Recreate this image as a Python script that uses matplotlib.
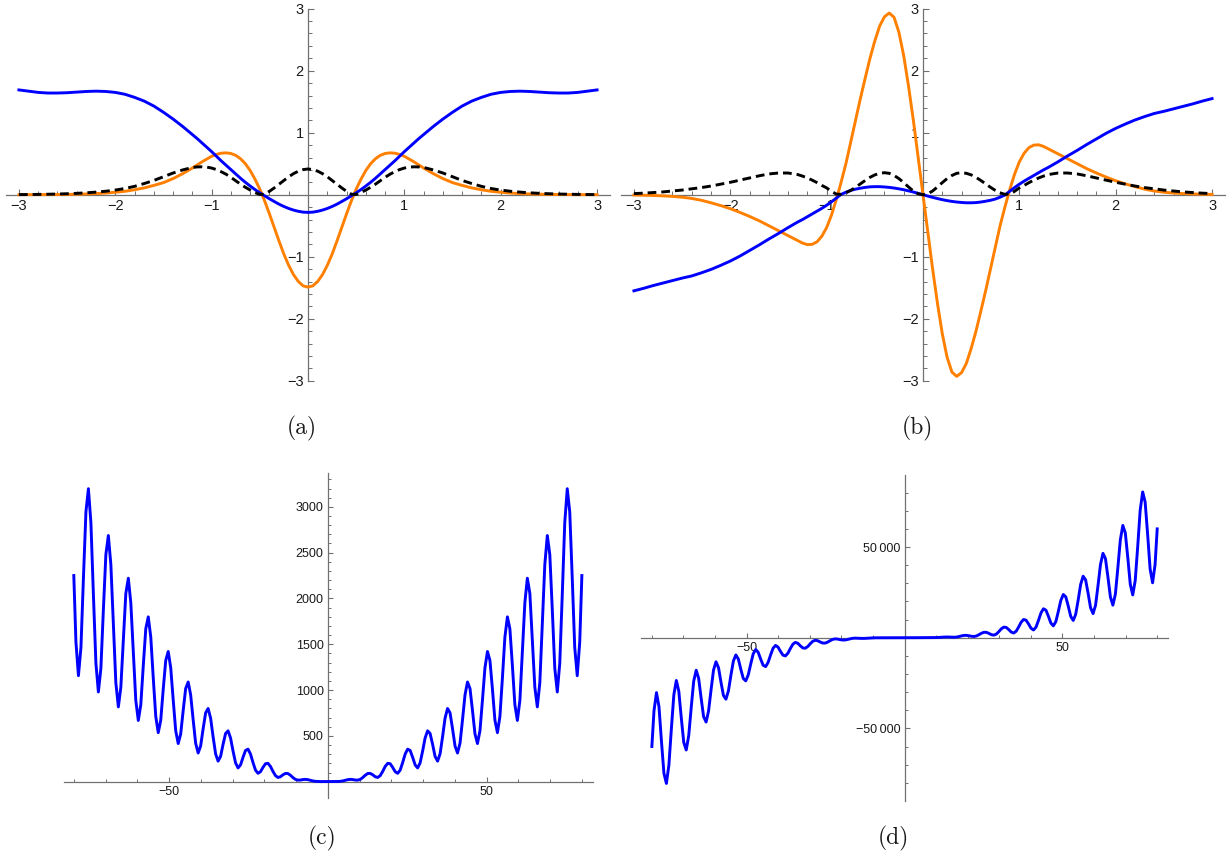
import numpy as np
import matplotlib.pyplot as plt

# ---------------- panels (a) and (b): shared x samples ----------------
x_ab = [-3.0, -2.9, -2.8, -2.7, -2.6, -2.5, -2.4, -2.3, -2.2, -2.1, -2.0, -1.9, -1.8, -1.7, -1.6, -1.5, -1.4, -1.3,
        -1.25, -1.2, -1.15, -1.1, -1.05, -1.0, -0.95, -0.9, -0.85, -0.8, -0.75, -0.7, -0.65, -0.6, -0.55,
        -0.5, -0.45, -0.4, -0.35, -0.3, -0.25, -0.2, -0.15, -0.1, -0.05, 0.0,
        0.05, 0.1, 0.15, 0.2, 0.25, 0.3, 0.35, 0.4, 0.45, 0.5, 0.55, 0.6, 0.65, 0.7, 0.75, 0.8, 0.85,
        0.9, 0.95, 1.0, 1.05, 1.1, 1.15, 1.2, 1.25,
        1.3, 1.4, 1.5, 1.6, 1.7, 1.8, 1.9, 2.0, 2.1, 2.2, 2.3, 2.4, 2.5, 2.6, 2.7, 2.8, 2.9, 3.0]

# panel (a)
blue_a = [1.69, 1.67, 1.65, 1.64, 1.64, 1.645, 1.655, 1.665, 1.67, 1.665, 1.65, 1.62, 1.57, 1.51, 1.43, 1.33,
          1.22, 1.10,
          1.035, 0.97, 0.905, 0.835, 0.765, 0.695, 0.62, 0.545, 0.475, 0.405, 0.335, 0.265, 0.2, 0.14, 0.083,
          0.03, -0.018, -0.065, -0.11, -0.153, -0.19, -0.222, -0.248, -0.268, -0.281, -0.285,
          -0.281, -0.268, -0.248, -0.222, -0.19, -0.153, -0.11, -0.065, -0.018, 0.03, 0.083, 0.14, 0.2, 0.265,
          0.335, 0.405, 0.475, 0.545, 0.62, 0.695, 0.765, 0.835, 0.905, 0.97, 1.035,
          1.10, 1.22, 1.33, 1.43, 1.51, 1.57, 1.62, 1.65, 1.665, 1.67, 1.665, 1.655, 1.645, 1.64, 1.64, 1.65,
          1.67, 1.69]
orange_a = [0.0, 0.001, 0.001, 0.002, 0.003, 0.005, 0.008, 0.012, 0.018, 0.027, 0.04, 0.055, 0.08, 0.11, 0.15,
            0.195, 0.26, 0.34,
            0.385, 0.43, 0.48, 0.53, 0.575, 0.62, 0.65, 0.67, 0.675, 0.665, 0.635, 0.58, 0.50, 0.39, 0.25,
            0.09, -0.10, -0.31, -0.53, -0.75, -0.96, -1.14, -1.29, -1.40, -1.47, -1.49,
            -1.47, -1.40, -1.29, -1.14, -0.96, -0.75, -0.53, -0.31, -0.10, 0.09, 0.25, 0.39, 0.50, 0.58,
            0.635, 0.665, 0.675, 0.67, 0.65, 0.62, 0.575, 0.53, 0.48, 0.43, 0.385,
            0.34, 0.26, 0.195, 0.15, 0.11, 0.08, 0.055, 0.04, 0.027, 0.018, 0.012, 0.008, 0.005, 0.003,
            0.002, 0.001, 0.001, 0.0]
black_a = [0.002, 0.003, 0.005, 0.008, 0.011, 0.016, 0.022, 0.031, 0.042, 0.056, 0.075, 0.10, 0.135, 0.18,
           0.23, 0.29, 0.35, 0.40,
           0.42, 0.44, 0.448, 0.45, 0.445, 0.43, 0.405, 0.37, 0.33, 0.28, 0.225, 0.17, 0.12, 0.075, 0.035,
           0.004, 0.008, 0.055, 0.11, 0.17, 0.23, 0.29, 0.34, 0.38, 0.405, 0.415,
           0.405, 0.38, 0.34, 0.29, 0.23, 0.17, 0.11, 0.055, 0.008, 0.004, 0.035, 0.075, 0.12, 0.17,
           0.225, 0.28, 0.33, 0.37, 0.405, 0.43, 0.445, 0.45, 0.448, 0.44, 0.42,
           0.40, 0.35, 0.29, 0.23, 0.18, 0.135, 0.10, 0.075, 0.056, 0.042, 0.031, 0.022, 0.016, 0.011,
           0.008, 0.005, 0.003, 0.002]

# panel (b)
orange_b = [-0.005, -0.008, -0.012, -0.018, -0.027, -0.04, -0.06, -0.09, -0.13, -0.175, -0.225, -0.285,
            -0.35, -0.42, -0.50, -0.58, -0.66, -0.74,
            -0.78, -0.805, -0.80, -0.76, -0.67, -0.53, -0.33, -0.08, 0.20, 0.50, 0.85, 1.20, 1.55, 1.88, 2.20,
            2.48, 2.72, 2.87, 2.93, 2.86, 2.62, 2.24, 1.75, 1.20, 0.60, 0.0,
            -0.60, -1.20, -1.75, -2.24, -2.62, -2.86, -2.93, -2.87, -2.72, -2.48, -2.20, -1.88, -1.55, -1.20,
            -0.85, -0.50, -0.20, 0.08, 0.33, 0.53, 0.67, 0.76, 0.80, 0.805, 0.78,
            0.74, 0.66, 0.58, 0.50, 0.42, 0.35, 0.285, 0.225, 0.175, 0.13, 0.09, 0.06, 0.04, 0.027, 0.018,
            0.012, 0.008, 0.005]
blue_b = [-1.55, -1.51, -1.465, -1.425, -1.385, -1.345, -1.31, -1.26, -1.205, -1.14, -1.07, -0.99,
          -0.90, -0.81, -0.715, -0.625, -0.53, -0.44,
          -0.40, -0.355, -0.31, -0.265, -0.22, -0.17, -0.115, -0.055, 0.005, 0.04, 0.07, 0.09, 0.105, 0.118,
          0.127, 0.13, 0.13, 0.125, 0.118, 0.108, 0.095, 0.08, 0.062, 0.043, 0.022, 0.0,
          -0.022, -0.043, -0.062, -0.08, -0.095, -0.108, -0.118, -0.125, -0.13, -0.13, -0.127, -0.118,
          -0.105, -0.09, -0.07, -0.04, -0.005, 0.055, 0.115, 0.17, 0.22, 0.265, 0.31, 0.355, 0.40,
          0.44, 0.53, 0.625, 0.715, 0.81, 0.90, 0.99, 1.07, 1.14, 1.205, 1.26, 1.31, 1.345, 1.385,
          1.425, 1.465, 1.51, 1.55]
black_b = [0.018, 0.025, 0.035, 0.045, 0.06, 0.075, 0.095, 0.115, 0.14, 0.17, 0.20, 0.235, 0.27, 0.305,
           0.335, 0.35, 0.35, 0.325,
           0.30, 0.27, 0.235, 0.195, 0.15, 0.11, 0.055, 0.01, 0.006, 0.03, 0.07, 0.12, 0.175, 0.23, 0.28,
           0.32, 0.345, 0.355, 0.345, 0.31, 0.26, 0.195, 0.125, 0.06, 0.015, 0.0,
           0.015, 0.06, 0.125, 0.195, 0.26, 0.31, 0.345, 0.355, 0.345, 0.32, 0.28, 0.23, 0.175, 0.12,
           0.07, 0.03, 0.006, 0.01, 0.055, 0.11, 0.15, 0.195, 0.235, 0.27, 0.30,
           0.325, 0.35, 0.35, 0.335, 0.305, 0.27, 0.235, 0.20, 0.17, 0.14, 0.115, 0.095, 0.075, 0.06,
           0.045, 0.035, 0.025, 0.018]

# ---------------- panels (c) and (d): shared x samples ----------------
x_cd = [-80.0, -79.33,
        -78.54, -77.75, -76.97, -76.18, -75.4, -74.61, -73.83, -73.04, -72.26, -71.47,
        -70.69, -69.9, -69.12, -68.33, -67.54, -66.76, -65.97, -65.19, -64.4, -63.62,
        -62.83, -62.05, -61.26, -60.48, -59.69, -58.9, -58.12, -57.33, -56.55, -55.76,
        -54.98, -54.19, -53.41, -52.62, -51.84, -51.05, -50.27, -49.48, -48.69, -47.91,
        -47.12, -46.34, -45.55, -44.77, -43.98, -43.2, -42.41, -41.63, -40.84, -40.06,
        -39.27, -38.48, -37.7, -36.91, -36.13, -35.34, -34.56, -33.77, -32.99, -32.2,
        -31.42, -30.63, -29.85, -29.06, -28.27, -27.49, -26.7, -25.92, -25.13, -24.35,
        -23.56, -22.78, -21.99, -21.21, -20.42, -19.63, -18.85, -18.06, -17.28, -16.49,
        -15.71, -14.92, -14.14, -13.35, -12.57, -11.78, -11.0, -10.21, -9.42, -8.64,
        -7.85, -7.07, -6.28, -5.5, -4.71, -3.93, -3.14, -2.36, -1.57, -0.79,
        0.0,
        0.79, 1.57, 2.36, 3.14, 3.93, 4.71, 5.5, 6.28, 7.07, 7.85,
        8.64, 9.42, 10.21, 11.0, 11.78, 12.57, 13.35, 14.14, 14.92, 15.71,
        16.49, 17.28, 18.06, 18.85, 19.63, 20.42, 21.21, 21.99, 22.78, 23.56,
        24.35, 25.13, 25.92, 26.7, 27.49, 28.27, 29.06, 29.85, 30.63, 31.42,
        32.2, 32.99, 33.77, 34.56, 35.34, 36.13, 36.91, 37.7, 38.48, 39.27,
        40.06, 40.84, 41.63, 42.41, 43.2, 43.98, 44.77, 45.55, 46.34, 47.12,
        47.91, 48.69, 49.48, 50.27, 51.05, 51.84, 52.62, 53.41, 54.19, 54.98,
        55.76, 56.55, 57.33, 58.12, 58.9, 59.69, 60.48, 61.26, 62.05, 62.83,
        63.62, 64.4, 65.19, 65.97, 66.76, 67.54, 68.33, 69.12, 69.9, 70.69,
        71.47, 72.26, 73.04, 73.83, 74.61, 75.4, 76.18, 76.97, 77.75, 78.54,
        79.33, 80.0]
y_c = [2250, 1525,
       1157, 1466, 2222, 2946, 3198, 2826, 2044, 1293, 979, 1238,
       1874, 2480, 2687, 2370, 1711, 1080, 816, 1030, 1555, 2054,
       2221, 1954, 1407, 887, 668, 841, 1267, 1669, 1799, 1578,
       1133, 712, 535, 671, 1008, 1323, 1421, 1243, 889, 556,
       416, 521, 778, 1017, 1088, 947, 675, 420, 313, 389,
       578, 752, 799, 692, 489, 303, 224, 276, 408, 526,
       555, 476, 334, 205, 150, 183, 267, 341, 355, 301,
       208, 126, 91, 109, 156, 196, 200, 166, 112, 66,
       46, 54, 75, 90, 89, 70, 45, 25, 17, 18,
       23, 25, 22, 15, 8, 4, 2, 1, 1, 0,
       0,
       0, 1, 1, 2, 4, 8, 15, 22, 25, 23,
       18, 17, 25, 45, 70, 89, 90, 75, 54, 46,
       66, 112, 166, 200, 196, 156, 109, 91, 126, 208,
       301, 355, 341, 267, 183, 150, 205, 334, 476, 555,
       526, 408, 276, 224, 303, 489, 692, 799, 752, 578,
       389, 313, 420, 675, 947, 1088, 1017, 778, 521, 416,
       556, 889, 1243, 1421, 1323, 1008, 671, 535, 712, 1133,
       1578, 1799, 1669, 1267, 841, 668, 887, 1407, 1954, 2221,
       2054, 1555, 1030, 816, 1080, 1711, 2370, 2687, 2480, 1874,
       1238, 979, 1293, 2044, 2826, 3198, 2946, 2222, 1466, 1157,
       1525, 2250]
y_d = [-60000, -40335,
       -30280, -37986, -56998, -74813, -80369, -70279, -50300, -31490, -23579, -29502,
       -44148, -57786, -61904, -53978, -38519, -24042, -17947, -22385, -33391, -43562,
       -46510, -40415, -28739, -17873, -13292, -16516, -24540, -31888, -33906, -29338,
       -20772, -12861, -9521, -11775, -17411, -22511, -23813, -20497, -14433, -8886,
       -6541, -8040, -11816, -15180, -15953, -13638, -9536, -5828, -4258, -5193,
       -7570, -9644, -10046, -8510, -5895, -3567, -2579, -3113, -4487, -5650,
       -5814, -4862, -3323, -1983, -1413, -1679, -2380, -2946, -2977, -2442,
       -1635, -955, -665, -771, -1064, -1281, -1256, -997, -645, -363,
       -242, -269, -353, -403, -372, -277, -166, -86, -52, -52,
       -61, -60, -47, -28, -13, -5, -2, -1, 0, 0,
       0,
       0, 0, 1, 2, 5, 13, 28, 47, 60, 61,
       52, 52, 86, 166, 277, 372, 403, 353, 269, 242,
       363, 645, 997, 1256, 1281, 1064, 771, 665, 955, 1635,
       2442, 2977, 2946, 2380, 1679, 1413, 1983, 3323, 4862, 5814,
       5650, 4487, 3113, 2579, 3567, 5895, 8510, 10046, 9644, 7570,
       5193, 4258, 5828, 9536, 13638, 15953, 15180, 11816, 8040, 6541,
       8886, 14433, 20497, 23813, 22511, 17411, 11775, 9521, 12861, 20772,
       29338, 33906, 31888, 24540, 16516, 13292, 17873, 28739, 40415, 46510,
       43562, 33391, 22385, 17947, 24042, 38519, 53978, 61904, 57786, 44148,
       29502, 23579, 31490, 50300, 70279, 80369, 74813, 56998, 37986, 30280,
       40335, 60000]

# ticks and labels
ticks_ab = [-3, -2, -1, 1, 2, 3]
labels_ab = ['\u22123', '\u22122', '\u22121', '1', '2', '3']
xticks_cd = [-50, 50]
xlabels_cd = ['\u221250', '50']
yticks_c = [500, 1000, 1500, 2000, 2500, 3000]
ylabels_c = ['500', '1000', '1500', '2000', '2500', '3000']
yticks_d = [-50000, 50000]
ylabels_d = ['\u221250\u2009000', '50\u2009000']
captions = ['(a)', '(b)', '(c)', '(d)']

BLUE = '#0000ff'
ORANGE = '#ff8000'
AXC = '#707070'
TXT = '#1a1a1a'
TICKFONT = ['Liberation Sans', 'DejaVu Sans']
LW = 2.1


def mma_axes(ax, xlim, ylim, xt, xl, xminor, yt, yl, yminor, fs, lmaj, lmin):
    # Mathematica-like axes crossing at the origin, ticks pointing inward
    ax.set_xlim(xlim)
    ax.set_ylim(ylim)
    ax.patch.set_visible(False)
    for s in ['top', 'right']:
        ax.spines[s].set_visible(False)
    for s in ['left', 'bottom']:
        ax.spines[s].set_position(('data', 0))
        ax.spines[s].set_color(AXC)
        ax.spines[s].set_linewidth(0.9)
        ax.spines[s].set_zorder(1)
    ax.set_xticks(xt)
    ax.set_xticklabels(xl)
    ax.set_xticks(xminor, minor=True)
    ax.set_yticks(yt)
    ax.set_yticklabels(yl)
    ax.set_yticks(yminor, minor=True)
    ax.tick_params(which='major', direction='in', length=lmaj, width=0.8, color=AXC,
                   labelsize=fs, labelcolor=TXT, pad=3)
    ax.tick_params(which='minor', direction='in', length=lmin, width=0.7, color=AXC)
    for lab in ax.get_xticklabels() + ax.get_yticklabels():
        lab.set_family(TICKFONT)


fig = plt.figure(figsize=(12.3, 8.61), dpi=100)

minor_ab = [v / 10 for v in range(-30, 31, 2) if v % 10 != 0]

ax_a = fig.add_axes([0.0052, 0.5578, 0.4904, 0.4321])
mma_axes(ax_a, (-3.13, 3.13), (-3, 3), ticks_ab, labels_ab, minor_ab,
         ticks_ab, labels_ab, minor_ab, 10.5, 4.5, 3)
ax_a.plot(x_ab, orange_a, color=ORANGE, lw=LW, zorder=3)
ax_a.plot(x_ab, blue_a, color=BLUE, lw=LW, zorder=4)
ax_a.plot(x_ab, black_a, color='black', lw=LW, dashes=(3, 1.7), zorder=5)

ax_b = fig.add_axes([0.5052, 0.5578, 0.4904, 0.4321])
mma_axes(ax_b, (-3.13, 3.13), (-3, 3), ticks_ab, labels_ab, minor_ab,
         ticks_ab, labels_ab, minor_ab, 10.5, 4.5, 3)
ax_b.plot(x_ab, orange_b, color=ORANGE, lw=LW, zorder=3)
ax_b.plot(x_ab, blue_b, color=BLUE, lw=LW, zorder=4)
ax_b.plot(x_ab, black_b, color='black', lw=LW, dashes=(3, 1.7), zorder=5)

minor_cd = [v for v in range(-80, 81, 10) if v not in (-50, 0, 50)]

ax_c = fig.add_axes([0.0520, 0.0732, 0.4301, 0.3775])
mma_axes(ax_c, (-83.1, 83.5), (-178, 3370), xticks_cd, xlabels_cd, minor_cd,
         yticks_c, ylabels_c, [v for v in range(100, 3400, 100) if v % 500 != 0], 9, 3.5, 2.5)
ax_c.plot(x_cd, y_c, color=BLUE, lw=LW, zorder=3, solid_joinstyle='round')

ax_d = fig.add_axes([0.5215, 0.0700, 0.4283, 0.3783])
mma_axes(ax_d, (-83.3, 83.5), (-89900, 89700), xticks_cd, xlabels_cd, minor_cd,
         yticks_d, ylabels_d, [v for v in range(-80000, 80001, 10000) if v not in (-50000, 0, 50000)],
         9, 3.5, 2.5)
ax_d.plot(x_cd, y_d, color=BLUE, lw=LW, zorder=3, solid_joinstyle='round')

cap_pos = [(302, 428), (917, 428), (322, 838), (893, 838)]
for cap, (px, py) in zip(captions, cap_pos):
    fig.text(px / 1230, 1 - py / 861, cap, family='cmr10', size=17, color=TXT,
             ha='center', va='center')

fig.savefig('out.png', dpi=100)
